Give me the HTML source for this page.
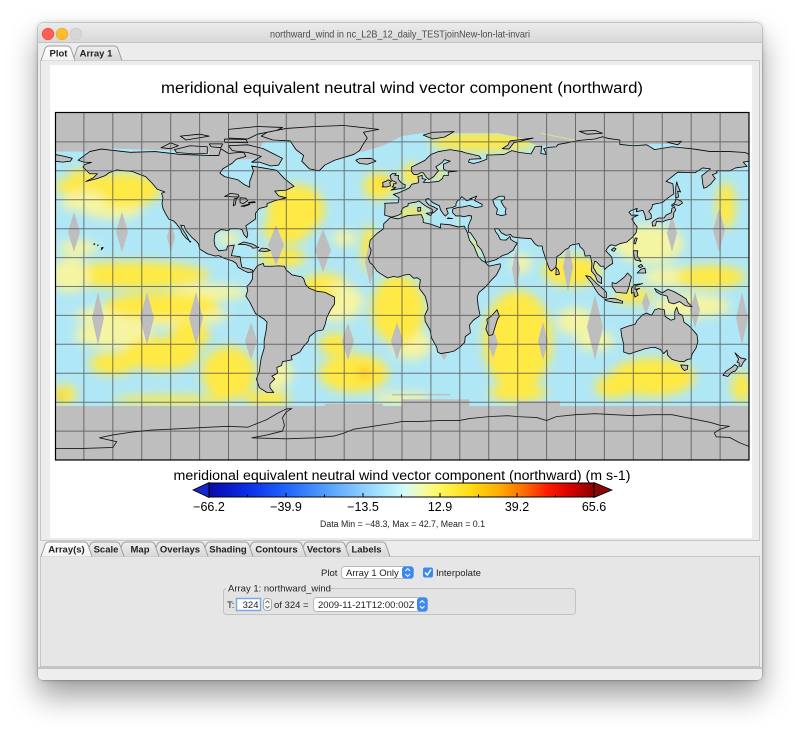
<!DOCTYPE html>
<html><head><meta charset="utf-8">
<style>
html,body{margin:0;padding:0;background:#fff;}
body{width:800px;height:731px;position:relative;overflow:hidden;font-family:"Liberation Sans",sans-serif;}
#win{position:absolute;left:38px;top:23px;width:724px;height:657px;border-radius:5px;background:#ececec;box-shadow:0 16px 30px rgba(0,0,0,0.38),0 0 6px rgba(0,0,0,0.18),0 0 0 0.5px rgba(0,0,0,0.25);}
svg{position:absolute;left:0;top:0;}
</style></head><body>
<div id="win"></div>
<svg width="800" height="731" viewBox="0 0 800 731" font-family="Liberation Sans, sans-serif">
<defs>
 <linearGradient id="tb" x1="0" y1="0" x2="0" y2="1"><stop offset="0" stop-color="#ebebeb"/><stop offset="1" stop-color="#d9d9d9"/></linearGradient>
 <linearGradient id="tsel" x1="0" y1="0" x2="0" y2="1"><stop offset="0" stop-color="#ffffff"/><stop offset="1" stop-color="#f2f2f2"/></linearGradient>
 <linearGradient id="tun" x1="0" y1="0" x2="0" y2="1"><stop offset="0" stop-color="#eeeeee"/><stop offset="1" stop-color="#d8d8d8"/></linearGradient>
 <linearGradient id="cb" x1="0" y1="0" x2="1" y2="0">
  <stop offset="0" stop-color="#0a0aa8"/><stop offset="0.1" stop-color="#0b2ee6"/><stop offset="0.2" stop-color="#1f64ff"/>
  <stop offset="0.3" stop-color="#4f9cff"/><stop offset="0.4" stop-color="#8ccfff"/><stop offset="0.47" stop-color="#b4eefc"/>
  <stop offset="0.51" stop-color="#d6fbf4"/><stop offset="0.55" stop-color="#f2fcb0"/><stop offset="0.6" stop-color="#fff75a"/>
  <stop offset="0.68" stop-color="#ffdc14"/><stop offset="0.75" stop-color="#ffb000"/><stop offset="0.82" stop-color="#ff6a00"/>
  <stop offset="0.88" stop-color="#ff1a00"/><stop offset="0.94" stop-color="#d40000"/><stop offset="1" stop-color="#8c0000"/>
 </linearGradient>
 <clipPath id="dataclip">
  <polygon transform="matrix(1.92778,0,0,-1.92778,402,286.5)" points="-180,70 -165,70 -150,71.5 -100,70 -100,66 -76,66 -72,75 -55,77 -35,70 -20,70 -10,73 0,78 10,79.5 50,79.5 62,77 70,73 80,73 140,74 165,68 170,66 180,66 180,-62 -180,-62"/>
 </clipPath>
 <clipPath id="mapclip"><rect x="55" y="113" width="694" height="347"/></clipPath>
 <filter id="bl" x="-20%" y="-20%" width="140%" height="140%"><feGaussianBlur stdDeviation="5"/></filter>
</defs>

<!-- title bar -->
<path d="M38,42 L38,28 Q38,23 43,23 L757,23 Q762,23 762,28 L762,42 Z" fill="url(#tb)"/>
<line x1="38" y1="42.5" x2="762" y2="42.5" stroke="#c4c4c4"/>
<circle cx="48" cy="34" r="6" fill="#fd5f57" stroke="#e04a44" stroke-width="0.5"/>
<circle cx="62" cy="34" r="6" fill="#febc2e" stroke="#dea02a" stroke-width="0.5"/>
<circle cx="76" cy="34" r="6" fill="#d6d6d6" stroke="#c2c2c2" stroke-width="0.5"/>
<text x="400" y="37.5" font-size="10.5" fill="#4c4c4c" text-anchor="middle" textLength="260" lengthAdjust="spacingAndGlyphs">northward_wind in nc_L2B_12_daily_TESTjoinNew-lon-lat-invari</text>

<!-- top tabs -->
<rect x="40.5" y="60.5" width="719" height="480" fill="#ececec" stroke="#c6c6c6"/>
<path d="M73,60.5 L77,49 Q78,46 81,46 L114,46 Q117,46 118,49 L122,60.5" fill="url(#tun)" stroke="#9c9c9c"/>
<path d="M41,60.5 L45,49 Q46,46 49,46 L67,46 Q70,46 71,49 L75,60.5" fill="url(#tsel)" stroke="#9c9c9c"/>
<text x="58.5" y="56.5" font-size="9.5" font-weight="bold" fill="#222" text-anchor="middle">Plot</text>
<text x="96" y="56.5" font-size="9.5" font-weight="bold" fill="#222" text-anchor="middle">Array 1</text>

<!-- plot area -->
<rect x="50" y="65" width="702" height="473" fill="#ffffff"/>
<text x="402" y="93" font-size="15.5" fill="#000" text-anchor="middle" textLength="482" lengthAdjust="spacingAndGlyphs">meridional equivalent neutral wind vector component (northward)</text>

<!-- MAP -->
<g clip-path="url(#mapclip)">
<rect x="55" y="113" width="694" height="347" fill="#bebebe"/>
<g clip-path="url(#dataclip)">
 <rect x="55" y="113" width="694" height="347" fill="#b0e7f6"/>
 <g filter="url(#bl)">
 <g transform="matrix(1.92778,0,0,-1.92778,402,286.5)" fill="#ffe945">
  <!-- broad pale layer -->
  <g fill="#f5f4a2">
   <ellipse cx="-130" cy="-15" rx="40" ry="6"/>
   <ellipse cx="5" cy="-30" rx="10" ry="8"/>
   <ellipse cx="100" cy="-28" rx="10" ry="5"/>
   <ellipse cx="140" cy="5" rx="15" ry="5"/>
   <ellipse cx="-150" cy="40" rx="15" ry="5"/>
   <ellipse cx="-65" cy="-45" rx="8" ry="8"/>
  </g>
  <!-- North Pacific -->
  <ellipse cx="-145" cy="50" rx="20" ry="9"/>
  <ellipse cx="-172" cy="52" rx="8" ry="4"/>
  <ellipse cx="-165" cy="58" rx="8" ry="3"/>
  <ellipse cx="-165" cy="44" rx="12" ry="5" fill="#f5f4a2"/>
  <ellipse cx="-168" cy="20" rx="10" ry="4" fill="#f5f4a2"/>
  <ellipse cx="-140" cy="6" rx="40" ry="7"/>
  <ellipse cx="-172" cy="6" rx="10" ry="9" fill="#f5f4a2"/>
  <ellipse cx="-100" cy="-3" rx="20" ry="4" fill="#f5f4a2"/>
  <!-- Atlantic north -->
  <ellipse cx="-55" cy="40" rx="15" ry="13"/>
  <ellipse cx="-60" cy="30" rx="12" ry="8"/>
  <ellipse cx="-62" cy="15" rx="12" ry="5"/>
  <ellipse cx="-90" cy="25" rx="6" ry="3" fill="#f5f4a2"/>
  <ellipse cx="-12" cy="52" rx="8" ry="7"/>
  <ellipse cx="-10" cy="54.5" rx="2.5" ry="2" fill="#ffc21a"/>
  <ellipse cx="-17" cy="20" rx="4" ry="12"/>
  <ellipse cx="-40" cy="0" rx="12" ry="7"/>
  <ellipse cx="-30" cy="25" rx="6" ry="4" fill="#f5f4a2"/>
  <!-- Europe / Arctic -->
  <ellipse cx="42" cy="75" rx="28" ry="5"/>
  <ellipse cx="5" cy="58" rx="5" ry="6"/>
  <ellipse cx="19" cy="58" rx="3" ry="3"/>
  <ellipse cx="5" cy="38" rx="8" ry="3"/>
  <ellipse cx="37" cy="20" rx="2" ry="6"/>
  <!-- Indian north -->
  <ellipse cx="88" cy="8" rx="15" ry="8"/>
  <ellipse cx="62" cy="12" rx="5" ry="5" fill="#f5f4a2"/>
  <!-- West Pacific -->
  <ellipse cx="128" cy="22" rx="18" ry="10" fill="#f5f4a2"/>
  <ellipse cx="168" cy="42" rx="5" ry="12"/>
  <ellipse cx="160" cy="5" rx="18" ry="6"/>
  <ellipse cx="120" cy="-5" rx="10" ry="4"/>
  <!-- South Pacific -->
  <ellipse cx="-125" cy="-10" rx="30" ry="7"/>
  <ellipse cx="-150" cy="-25" rx="20" ry="7" fill="#f5f4a2"/>
  <ellipse cx="-125" cy="-35" rx="20" ry="9"/>
  <ellipse cx="-150" cy="-40" rx="12" ry="6"/>
  <ellipse cx="-110" cy="-25" rx="10" ry="8"/>
  <ellipse cx="-90" cy="-45" rx="14" ry="14"/>
  <ellipse cx="-175" cy="-56" rx="6" ry="5"/>
  <ellipse cx="-178" cy="-57" rx="2.5" ry="2.5" fill="#ffc21a"/>
  <ellipse cx="-120" cy="-59" rx="30" ry="2.5"/>
  <ellipse cx="-70" cy="-58" rx="12" ry="4"/>
  <!-- South Atlantic -->
  <ellipse cx="-35" cy="-8" rx="15" ry="10" fill="#f5f4a2"/>
  <ellipse cx="-45" cy="-5" rx="10" ry="7"/>
  <ellipse cx="-2" cy="-12" rx="14" ry="18"/>
  <ellipse cx="-35" cy="-30" rx="8" ry="6"/>
  <ellipse cx="-25" cy="-45" rx="18" ry="10"/>
  <ellipse cx="-19.5" cy="-45" rx="3" ry="2.5" fill="#ffb400"/>
  <ellipse cx="0" cy="-58" rx="15" ry="3" fill="#f5f4a2"/>
  <!-- Indian south -->
  <ellipse cx="60" cy="-28" rx="18" ry="26"/>
  <ellipse cx="60" cy="-55" rx="15" ry="5"/>
  <ellipse cx="90" cy="-18" rx="10" ry="7" fill="#f5f4a2"/>
  <ellipse cx="130" cy="-47" rx="22" ry="10"/>
  <ellipse cx="110" cy="-52" rx="10" ry="6"/>
  <ellipse cx="176" cy="-52" rx="5" ry="8"/>
  <ellipse cx="150" cy="-10" rx="20" ry="6" fill="#f5f4a2"/>
 </g>
 </g>
</g>
<!-- swath gaps -->
<g fill="#bebebe">
 <polygon points="74,212 80,232 74,252 68,232"/>
 <polygon points="122,212 128,232 122,252 116,232"/>
 <polygon points="171,222 175,237 171,252 167,237"/>
 <polygon points="276,225 284,245 276,265 268,245"/>
 <polygon points="323,229 331,250 323,272 315,250"/>
 <polygon points="370,239 375,262 370,285 365,262"/>
 <polygon points="98,292 104,318 98,345 92,318"/>
 <polygon points="147,292 154,318 147,345 140,318"/>
 <polygon points="196,292 203,318 196,345 189,318"/>
 <polygon points="251,322 257,341 251,360 245,341"/>
 <polygon points="348,323 354,341 348,360 342,341"/>
 <polygon points="397,322 403,341 397,360 391,341"/>
 <polygon points="444,350 447,355 444,360 441,355"/>
 <polygon points="493,328 498,343 493,358 488,343"/>
 <polygon points="543,322 548,341 543,360 538,341"/>
 <polygon points="595,295 603,327 595,360 587,327"/>
 <polygon points="646,292 650,303 646,315 642,303"/>
 <polygon points="695,292 700,310 695,328 690,310"/>
 <polygon points="742,292 748,318 742,345 736,318"/>
 <polygon points="516,248 520,269 516,290 512,269"/>
 <polygon points="568,242 573,267 568,292 563,267"/>
 <polygon points="672,215 677,233 672,252 667,233"/>
 <polygon points="719,209 725,230 719,252 713,230"/>
</g>
<g transform="matrix(1.92778,0,0,-1.92778,402,286.5)">
 <g fill="#bebebe">
  <rect x="0" y="-62" width="35" height="3.5"/>
  <rect x="60" y="-62" width="22" height="2.5"/>
  <rect x="-5" y="-56.5" width="30" height="0.8"/>
  <rect x="-40" y="-62" width="30" height="1.2"/>
 </g>
 <g stroke="#f3ea78" stroke-width="0.45" fill="none" opacity="0.9">
  <line x1="72" y1="79.5" x2="157" y2="62"/>
  <line x1="25" y1="57.8" x2="33.7" y2="0"/>
 </g>
 <g fill="#bebebe" stroke="#000" stroke-width="0.42" stroke-linejoin="round">
  <polygon points="-168,65.5 -162,70 -156,71.3 -141,69.6 -128,70 -115,68.5 -100,68 -95,68 -94,71.5 -90,69 -85,69.5 -82,69.5 -81,67.5 -86,66 -88,64 -93,61 -94.5,58.8 -92,57 -85,55.3 -82,53 -79,51.5 -79,54.5 -77,60 -78,62.5 -72,61.5 -65,60.3 -61,56 -56,52 -60,50 -66,49.5 -64,47 -60,46 -66,44.5 -70,43 -70,41.5 -74,40.5 -76,38 -76,35 -81,31.5 -80,27 -80.5,25.2 -82,27 -83,29.5 -85,30 -89,30 -90,29 -94,29.5 -97,27.5 -97.5,24 -97,21 -95,18.5 -91,19 -90.5,21 -87,21.5 -88,18 -88.5,16 -84,15.5 -83.5,12 -83,10 -79.5,9.2 -77.5,8.5 -77.8,7.5 -80,7.3 -82,8.2 -85,10 -86,12 -88,13.3 -92,14.5 -95,16 -97,15.8 -101,17 -105,19.5 -105.5,22 -106.5,23.3 -109,25.5 -112,29 -113,31.5 -114.8,31.8 -114,30 -112,27 -110,23 -109.5,23.2 -112,25 -114,27.5 -115,29.8 -117,32.5 -118.5,34 -121,35 -122.5,37.5 -124,40.5 -124.5,43 -124,46 -124.7,48.4 -123,49 -127,50.5 -130,54 -133,57 -137,58.5 -140,59.7 -144,60 -148,60.5 -152,59 -154,57.5 -158,56 -162,55 -164,54.5 -160,56.5 -158,58.5 -162,58.5 -164,60.5 -165.5,62 -164.5,63.3 -161,64.4 -165,64.5"/>
  <polygon points="-73,78 -67,76 -58,75.5 -55,71 -51,68 -52,65 -48,61 -43,60 -40,63 -35,65.5 -25,68.5 -22,70.5 -20,74 -18,77 -20,80 -12,81.5 -30,83.5 -45,83 -60,82 -70,80"/>
  <polygon points="-80,73.5 -72,71.5 -67,69 -62,66.5 -64,63 -68,62.5 -74,64.5 -78,64.5 -73,67.5 -80,69.5 -88,70.5 -90,73"/>
  <polygon points="-118,71 -110,73 -101,72.5 -101,69 -108,68.8 -117,69.5"/>
  <polygon points="-125,72 -120,74.5 -116,73 -120,71.5"/>
  <polygon points="-90,77 -80,76.5 -75,79 -65,81 -62,82.5 -75,83 -90,81.5"/>
  <polygon points="-92,76.5 -81,76.3 -80,74.6 -92,74.8"/>
  <polygon points="-112,76 -100,78 -105,79 -115,78"/>
  <polygon points="-100,74 -93,74 -94,72 -99,72.5"/>
  <polygon points="-24,65.5 -22,66.4 -16,66.5 -13.5,65 -18,63.4 -22,63.8"/>
  <polygon points="-180,68.5 -175,67.5 -171,66.5 -172,65 -176,64.5 -180,65"/>
  <polygon points="-77,8 -75,10.8 -72,12 -71.5,10.5 -68,10.5 -64,10.7 -61,10.5 -60,8.5 -57,6 -52,5 -51,4 -50,1 -48,-1 -44,-2.5 -40,-3 -35,-5.5 -35,-9 -37,-12 -39,-16 -40,-20 -41,-22.5 -44.5,-23.2 -48,-26 -48.7,-28.5 -51,-31 -53,-34 -55,-35 -57.5,-36 -57,-38 -62,-39 -62.5,-41 -65,-42 -64.5,-45 -67.5,-46.5 -66,-48 -68.5,-50.5 -68.5,-52.5 -66.5,-55 -70,-55 -74,-52.5 -75.5,-48 -74,-44 -73.5,-40 -73,-37 -71.5,-32 -71.5,-28 -70.5,-23 -70,-18.5 -71.5,-17 -76,-14 -79,-8 -81,-5 -80,-2 -80.5,0 -79,1.5 -77.5,4 -77.5,7"/>
  <polygon points="-17,21 -16.5,24 -13,27.5 -9.5,30 -9.5,32.5 -6,35.8 -2,35.1 3,36.8 10,37.3 11,35 11,33.2 15,32.3 20,30.5 20,32.5 25,32 29,30.9 32.3,31.3 34,27.8 35,24 37.3,21 38.5,18 39.5,15.5 41.5,13.5 43.3,12.5 45,10.5 51,11.8 51,10 49,6 47,4 43,-0.5 40,-3 39,-5.5 39.5,-10 40.5,-15 37,-17.5 35,-20 35.5,-24 32.8,-26 32.5,-29 30,-31.5 27,-33.5 25,-34 20,-34.8 18.5,-34 18,-31.5 15.5,-27 14.5,-22.5 12,-18 11.8,-15 13.5,-11.5 13,-8.5 12,-5 9,-1 9.5,3.5 8,4.5 6,4.3 4,6.3 1,5.9 -2,4.8 -4.5,5.2 -7.5,4.4 -11.5,6.9 -13,8 -15,11 -16.7,12.5 -17.5,14.7 -16.5,16.5 -16,19"/>
  <polygon points="49.3,-12 50.5,-15.5 49.5,-17 48,-22 47,-25 45,-25.5 43.5,-22 44.3,-19 44,-17 46,-15.7 48,-13.5"/>
  <polygon points="-5.5,36 -9,37 -8.8,42 -9,43.2 -2,43.4 -1.5,46 -4.5,47.8 -1.5,48.7 1.5,50 4,51.3 5,53 8.5,53.8 8.5,55.5 8.2,57 10.5,57.7 10.5,56 12.5,55.5 11,54 14,54 19,54.5 21,56 21.5,57.5 24,57.5 24,59.4 28.5,59.8 23,60 21.5,61 21.5,63.5 25,65 22,65.8 21,64.5 17.5,62 19,60 18,59 16.5,57 14,55.5 12.7,56.5 11,59 9.5,59 8,58 6,58.2 5,59.5 5,62 8,63.5 12,65.5 15,68.5 19,70 25,71 31,70 33,69.3 40,67.7 41,66.3 35,66 34.5,64.5 37,63.8 40,64.5 44,66 44,68.3 46,68.2 53,68.5 57,70.5 61,69.5 67,68.8 69,72.5 72.5,72.8 72,69 75,68.5 73.5,71.5 76,72.2 80,72.5 81,73.7 87,74.8 92,75.8 100,76.5 104,77.7 107,76.8 113,76 113,73.7 120,73 127,73.5 131,71 140,72.5 150,71.5 160,70 170,70 178,69.5 180,68.5 180,65 177,64.5 179,62.3 173,61.5 170,60 163,60 163.5,59 161,58 162.5,56 160,53 158,51.5 156.5,51 156,53.5 155.5,57.5 160,61 156,61.5 152,59 143,59.3 137,54.5 140.5,53.3 141,48 138,46 135,43.5 132,43 130,42.5 129.5,40.5 128,39 129.3,37.2 129.3,35.3 126.5,34.5 126,37 125,39.5 121.5,38.8 122,40.5 119,39.5 117.7,38.5 119,37 122.5,37 120.3,36 119.2,35 120.8,32.5 122,31 121.5,28 119.5,25.5 116.5,23 113,22.2 110.5,21 109.5,21.5 108,21.5 106.6,20 105.7,18.5 108.8,15.3 109.3,12 107,10.5 105,8.7 104.8,10.5 103,10.5 101,12.7 100,13.2 99.2,10 100.2,8.3 101,6.8 103.5,4.7 103.5,1.5 101.3,2.8 100.3,5.6 98.3,8 98.5,12 97.7,16 95,15.8 94.3,18.8 92.3,20.7 91.8,22.3 90.5,22 88.5,21.7 87,21 86.5,20 84.8,19.2 82,16.5 80.3,15.5 80,11.5 79.8,10 77.5,8 76.5,8.9 74.5,14.5 73,19 72.7,21 70.5,21 68.8,22.3 67,24.8 61.6,25.2 57.4,25.7 56.3,27 54,26.5 51.5,27.9 50,30 48,30 48.5,28.5 50,26.5 50.8,24.7 51.6,24.2 54,24.1 56,26 56.4,24.5 57.8,23.5 59.8,22.5 58.5,20.5 57.8,19 55,17 52,16 49,14 45,12.8 43.5,12.6 42.7,15.5 41.2,19 39,21.5 38.5,23.5 35.5,27.9 34.6,28 34.3,31.2 35,33 35.9,35 36.1,36.6 34.5,36.8 32,36.2 30.5,36.6 28,36.6 26.3,38.2 26.2,39.5 26.5,40.3 29,41 31.2,41.2 35,42 38.2,40.9 41.5,41.5 41.6,42.6 37.5,44.7 38.8,46.9 35,45.4 36.5,45.3 33.5,44.5 32.5,45.4 31,46.6 30,45.3 28.7,44.3 28,43 28,41.8 26,40.9 23,40.5 24,38 22.5,36.5 21.5,37.5 20,39.7 19.4,41.8 16,43.5 13.7,45.6 12.3,45.3 12.5,44 14,42.3 16,41.5 18.5,40.2 16.6,38.5 15.7,38 15.7,40 14,40.8 12.2,41.8 10.5,43 8.8,44.4 7.5,43.8 5,43.4 3.2,43 3.1,41.8 0.8,41 -0.5,39 0,38.5 -0.7,37.6 -2.3,36.8"/>
  <polygon points="-5.7,50 1.5,51.2 1.7,52.7 0,53.5 -1.5,55 -2,56 -1.8,57.6 -3.8,57.7 -3,58.6 -5,58.6 -6.2,57.5 -5.6,55.4 -4.8,54.8 -3,54 -3.1,53.3 -4.6,53.3 -4.3,52.3 -5.2,51.7 -3.2,51.3"/>
  <polygon points="-6,52.2 -6.3,54 -5.5,54.6 -7.2,55.3 -8.5,54.5 -10,54 -9.8,52.2 -10.3,51.7 -8,51.6"/>
  <polygon points="130,31.3 131.5,31.5 132,33.8 135,33.5 136.8,34.3 139.8,35 140.8,36 141,38.3 142,39.7 141.3,41.4 140,40.5 139.7,38.3 137,37 136,35.6 133,35.5 131,34.4 129.7,33.3"/>
  <polygon points="140,41.5 141.5,42.5 143.5,42 145.5,43.3 145,44.2 142,45.5 141.5,43.3 140,42.5"/>
  <polygon points="142,46 143.5,46.5 143,49.5 144.5,49 143,52.5 142.5,54.3 142,51.5"/>
  <polygon points="120.2,22.5 121,22 122,25 121,25.2"/>
  <polygon points="108.6,19 110,20.1 111,19.6 110,18.2"/>
  <polygon points="120,18.5 122.3,18.5 122,16 124,13 121,13.8 120.5,15"/>
  <polygon points="122,7 126.5,7 126,9.5 124,9"/>
  <polygon points="122.5,10.5 124,11.5 125,10.5 123.5,9.8"/>
  <polygon points="109,2 111,1.5 113,3 115.5,5 117,7 119,5 118,1 117.5,-1 116.5,-3.5 114,-3.3 111,-3 110,-1.5 109,0"/>
  <polygon points="95.3,5.6 97.5,5.2 100.5,2 104,-1 106,-3 106,-5.8 104.5,-5.9 102,-4 100,-1 98.5,1.7"/>
  <polygon points="105.2,-6.8 108,-6.2 111,-6.4 114.5,-7.7 114.4,-8.7 110,-8.2 106,-7.4"/>
  <polygon points="119,-1 120.5,1 124.8,1.5 121,0.4 120.8,-1.5 123.3,-0.9 121.5,-1.9 122.5,-4.5 120.8,-5.5 120.3,-3 119,-3.5"/>
  <polygon points="131,-1 135,-3.3 138,-1.5 141,-2.6 145.5,-5.2 147.5,-6.5 148,-8 150.5,-10.5 147,-10 144,-7.8 141,-9 138.5,-8.3 137.5,-5 134,-4 132,-2.8"/>
  <polygon points="113.5,-22 114,-26 115,-30 115,-34 118,-35 121.5,-33.8 124,-33 126,-32.3 129,-31.7 131,-31.5 134,-32.7 135.8,-34.8 137.5,-33 137.7,-35.5 140,-37.8 143.5,-38.8 146.3,-39 148,-37.8 150,-37.5 150.5,-35 152.5,-32 153.5,-28.5 153,-25 150.8,-22.5 149,-20.5 146.3,-18.5 145.5,-15 143.5,-14 142.5,-10.7 141.5,-13 141.5,-16.8 139.5,-17.5 136.5,-15.5 136,-12 133,-11.5 131,-12.2 129.5,-15 127,-13.8 125,-14.5 122,-17.5 121,-19.5 117,-20.7"/>
  <polygon points="144.6,-40.7 148.3,-40.9 148,-43 146.5,-43.6 145.2,-42.2"/>
  <polygon points="172.7,-34.4 174.5,-36 175.5,-37 178.5,-37.7 177,-39.3 176,-41.4 174.8,-41.3 175,-39.7 173.8,-39.3 174.6,-37.7"/>
  <polygon points="172.7,-40.5 174.3,-41.7 173,-43.8 171,-44.5 169,-46.7 166.5,-46 168,-44 171.3,-41.8"/>
  <polygon points="79.8,6 81.7,6.4 81.2,8.5 80,9.8"/>
  <polygon points="-85,21.8 -82,23.1 -77.5,22 -74.2,20.2 -77.5,19.9 -78,20.7 -81,21.7 -84,21.9"/>
  <polygon points="-74.4,18.4 -72.8,19.9 -70,19.7 -68.4,18.6 -71,18.2"/>
  <polygon points="52,71.5 55,73.5 56,75.5 64,76.5 68,77 58,74.5 55.5,71.3"/>
  <polygon points="11,78.5 16,80 27,80.3 22,77.5 16,76.5"/>
  <polygon points="96,79 104,79.5 100,81 92,80.5"/>
  <polygon points="137,75 145,75.3 143,73.5"/>
  <polygon points="12.5,38 15.6,38.3 15,36.7"/>
  <polygon points="8.2,39 9.7,39.2 9.7,41 8.2,41"/>
  <polygon points="23.5,35.3 26.3,35.2 24,35.6"/>
  <polygon points="-92,46.7 -89,48.3 -85,47.8 -84.5,46.5 -87,46.5"/>
  <polygon points="-87.5,41.8 -86.5,42.5 -86,45.5 -85,46 -87,45.5"/>
  <polygon points="-84,43.5 -82.5,43 -80,44.5 -81,45.8 -84,46"/>
  <polygon points="-83.5,41.7 -79,42.8 -78.9,42.6 -82,41.5"/>
  <polygon points="-79.7,43.3 -76.2,43.5 -76.4,44 -79.5,43.6"/>
  <polygon points="-156,19 -155,20.2 -155.8,20.2"/>
  <polygon points="-160,22 -159.3,22.2 -159.5,21.8"/>
  <polygon points="-158,21.3 -157.6,21.6 -157.8,21.2"/>
  <polygon points="47,45 50.5,46.8 53,46.8 53.2,45.3 51.3,44.3 52.7,41.7 54,40.5 53.5,38.8 54,37.3 51.5,36.8 49,37.5 49.5,40.2 48,42 47.5,43.5" fill="#aee6f4"/>
 </g>
</g>
<!-- grid -->
<path stroke="#4a4a4a" stroke-width="1" opacity="0.72" fill="none" d="M83.9,113V460M112.8,113V460M141.75,113V460M170.7,113V460M199.6,113V460M228.5,113V460M257.4,113V460M286.3,113V460M315.25,113V460M344.2,113V460M373.1,113V460M402,113V460M430.9,113V460M459.8,113V460M488.75,113V460M517.7,113V460M546.6,113V460M575.5,113V460M604.4,113V460M633.3,113V460M662.25,113V460M691.2,113V460M720.1,113V460M55,141.9H749M55,170.8H749M55,199.75H749M55,228.7H749M55,257.6H749M55,286.5H749M55,315.4H749M55,344.3H749M55,373.25H749M55,402.2H749M55,431.1H749"/>
<polyline transform="matrix(1.92778,0,0,-1.92778,402,286.5)" fill="none" stroke="#1a1a1a" stroke-width="0.45" points="-180,-84 -165,-84 -150,-83.5 -148,-80.5 -157,-78.5 -150,-77 -140,-75.5 -130,-74.5 -120,-74 -110,-73.5 -100,-73 -90,-72.5 -80,-73 -75,-71 -70,-69 -65,-66 -60,-63.5 -57,-63.3 -60,-65 -62,-68 -61,-72 -62,-75 -70,-77 -78,-78.5 -60,-79 -45,-78.5 -35,-77.5 -30,-76 -25,-74 -15,-72.5 -5,-71 0,-70 10,-70 20,-69.5 30,-69.5 35,-68.5 45,-67.5 55,-67 60,-67.5 70,-68 75,-69.5 80,-67.5 90,-66.5 100,-66 110,-66.5 120,-67 130,-66.5 140,-66.5 150,-68.5 160,-70.5 165,-72 170,-72.5 165,-74 162,-76 163,-78 170,-78.3 175,-81 180,-83"/>
</g>
<rect x="55.5" y="112.5" width="693.5" height="347.5" fill="none" stroke="#000" stroke-width="1.2"/>

<!-- colorbar -->
<text x="402" y="480" font-size="13.5" fill="#000" text-anchor="middle" textLength="457" lengthAdjust="spacingAndGlyphs">meridional equivalent neutral wind vector component (northward) (m s-1)</text>
<polygon points="193,490 209,482.5 209,497.5" fill="#1426c4" stroke="#000" stroke-width="0.8"/>
<polygon points="594,482.5 612,490 594,497.5" fill="#860808" stroke="#000" stroke-width="0.8"/>
<rect x="209" y="483" width="385" height="14" fill="url(#cb)" stroke="#000" stroke-width="1"/>
<path stroke="#000" stroke-width="1" d="M247.5,494.5V497M286,493V497M324.5,494.5V497M363,493V497M401.5,494.5V497M440,493V497M478.5,494.5V497M517,493V497M555.5,494.5V497"/>
<g font-size="12.5" fill="#000" text-anchor="middle">
 <text x="209" y="511">−66.2</text>
 <text x="286" y="511">−39.9</text>
 <text x="363" y="511">−13.5</text>
 <text x="440" y="511">12.9</text>
 <text x="517" y="511">39.2</text>
 <text x="594" y="511">65.6</text>
</g>
<text x="402.5" y="527" font-size="9" fill="#222" text-anchor="middle" textLength="165" lengthAdjust="spacingAndGlyphs">Data Min = −48.3, Max = 42.7, Mean = 0.1</text>

<!-- bottom tabs -->
<rect x="40.5" y="556.5" width="719" height="110" fill="#e6e6e6" stroke="#c6c6c6"/>
<g stroke="#9c9c9c" fill="url(#tun)">
 <path d="M343,556.5 L347,545 Q348,542 351,542 L382,542 Q385,542 386,545 L390,556.5"/>
 <path d="M300,556.5 L304,545 Q305,542 308,542 L341,542 Q344,542 345,545 L349,556.5"/>
 <path d="M247,556.5 L251,545 Q252,542 255,542 L298,542 Q301,542 302,545 L306,556.5"/>
 <path d="M202,556.5 L206,545 Q207,542 210,542 L245,542 Q248,542 249,545 L253,556.5"/>
 <path d="M153,556.5 L157,545 Q158,542 161,542 L200,542 Q203,542 204,545 L208,556.5"/>
 <path d="M118,556.5 L122,545 Q123,542 126,542 L151,542 Q154,542 155,545 L159,556.5"/>
 <path d="M86,556.5 L90,545 Q91,542 94,542 L116,542 Q119,542 120,545 L124,556.5"/>
 <path d="M41,556.5 L45,545 Q46,542 49,542 L84,542 Q87,542 88,545 L92,556.5" fill="url(#tsel)"/>
</g>
<g font-size="9.5" font-weight="bold" fill="#222" text-anchor="middle">
 <text x="66.5" y="552.5">Array(s)</text>
 <text x="106" y="552.5">Scale</text>
 <text x="140" y="552.5">Map</text>
 <text x="180" y="552.5">Overlays</text>
 <text x="228" y="552.5">Shading</text>
 <text x="276.5" y="552.5">Contours</text>
 <text x="324" y="552.5">Vectors</text>
 <text x="366.5" y="552.5">Labels</text>
</g>

<!-- controls -->
<g font-size="9.5" fill="#222">
 <text x="321" y="576">Plot</text>
 <rect x="341.5" y="566.5" width="72" height="12" rx="3" fill="#fff" stroke="#b8b8b8"/>
 <text x="346" y="576">Array 1 Only</text>
 <rect x="402" y="566.5" width="11.5" height="12" rx="3" fill="#3b88f5"/>
 <path d="M405.3,571 L407.7,568.6 L410.1,571 M405.3,574 L407.7,576.4 L410.1,574" stroke="#fff" stroke-width="1" fill="none"/>
 <rect x="423" y="567.5" width="10" height="10" rx="2" fill="#3b88f5"/>
 <path d="M425,572.5 L427.3,575 L431,569.5" stroke="#fff" stroke-width="1.5" fill="none"/>
 <text x="436" y="576">Interpolate</text>

 <rect x="223.5" y="588.5" width="352" height="26" rx="3" fill="#e3e3e3" stroke="#c2c2c2"/>
 <rect x="226" y="584" width="103" height="8" fill="#e6e6e6"/>
 <text x="228" y="591.5">Array 1: northward_wind</text>
 <text x="227" y="608">T:</text>
 <rect x="236.5" y="598.5" width="24" height="12" fill="#fff" stroke="#7aaaea" stroke-width="1.5"/>
 <text x="258.5" y="608" text-anchor="end">324</text>
 <rect x="263.5" y="598.5" width="8" height="12" rx="3" fill="#f8f8f8" stroke="#aaaaaa"/>
 <path d="M265.5,603 L267.5,601 L269.5,603 M265.5,606 L267.5,608 L269.5,606" stroke="#555" stroke-width="0.8" fill="none"/>
 <text x="274" y="608">of 324 =</text>
 <rect x="313.5" y="597.5" width="114" height="14" rx="3" fill="#fff" stroke="#b8b8b8"/>
 <text x="318" y="608">2009-11-21T12:00:00Z</text>
 <rect x="417" y="597.5" width="10.5" height="14" rx="3" fill="#3b88f5"/>
 <path d="M419.8,603 L422.2,600.6 L424.6,603 M419.8,606 L422.2,608.4 L424.6,606" stroke="#fff" stroke-width="1" fill="none"/>
</g>

<!-- bottom strip -->
<rect x="38" y="667" width="724" height="2" fill="#c4c4c4"/>
<path d="M38,669 L762,669 L762,675 Q762,680 757,680 L43,680 Q38,680 38,675 Z" fill="#eeeeee"/>
</svg>
</body></html>
